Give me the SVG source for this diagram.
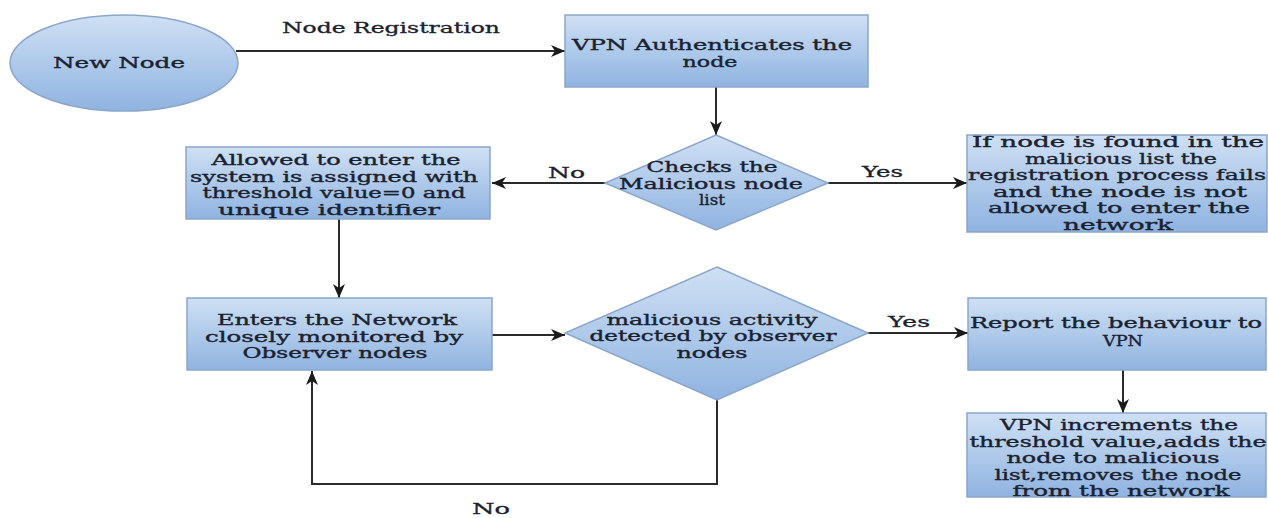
<svg xmlns="http://www.w3.org/2000/svg" width="1268" height="518" viewBox="0 0 1268 518">
<defs>
<linearGradient id="g" x1="0" y1="0" x2="0" y2="1">
<stop offset="0" stop-color="#cfe0f4"/>
<stop offset="1" stop-color="#8fb3e0"/>
</linearGradient>
<marker id="ah" markerUnits="userSpaceOnUse" markerWidth="16" markerHeight="14" refX="14" refY="7" orient="auto">
<path d="M0,1 L14,7 L0,13 L4,7 Z" fill="#1a1a1a"/>
</marker>
<style>
.n{fill:url(#g);stroke:#8ba6c9;stroke-width:1.5}
.t{font-family:"DejaVu Serif","Liberation Serif",serif;font-size:14px;fill:#1a2230;stroke:#1a2230;stroke-width:0.35;text-anchor:middle}
.c{fill:none;stroke:#2a2a2a;stroke-width:2;marker-end:url(#ah)}
.l{font-family:"DejaVu Serif","Liberation Serif",serif;font-size:14px;fill:#1a2230;stroke:#1a2230;stroke-width:0.3}
</style>
</defs>
<rect width="1268" height="518" fill="#ffffff"/>

<g id="connectors">
<line class="c" x1="236" y1="51" x2="565" y2="51"/>
<line class="c" x1="716" y1="87" x2="716" y2="135"/>
<line class="c" x1="605" y1="183" x2="492" y2="183"/>
<line class="c" x1="828" y1="183" x2="967" y2="183"/>
<line class="c" x1="339" y1="219" x2="339" y2="298"/>
<line class="c" x1="492" y1="335" x2="565" y2="335"/>
<line class="c" x1="868" y1="333" x2="968" y2="333"/>
<line class="c" x1="1123" y1="370" x2="1123" y2="413"/>
<polyline class="c" points="717,400 717,484 312,484 312,371"/>
<text class="l" x="282" y="33" textLength="218" lengthAdjust="spacingAndGlyphs">Node Registration</text>
<text class="l" x="548" y="178" textLength="37" lengthAdjust="spacingAndGlyphs">No</text>
<text class="l" x="862" y="177" textLength="41" lengthAdjust="spacingAndGlyphs">Yes</text>
<text class="l" x="888" y="327" textLength="42" lengthAdjust="spacingAndGlyphs">Yes</text>
<text class="l" x="472" y="514" textLength="38" lengthAdjust="spacingAndGlyphs">No</text>
</g>

<g id="new-node">
<ellipse class="n" cx="124" cy="63" rx="114" ry="48"/>
<text class="t" x="119" y="68" textLength="132" lengthAdjust="spacingAndGlyphs">New Node</text>
</g>

<g id="vpn-auth">
<rect class="n" x="565" y="15" width="303" height="72"/>
<text class="t" x="712" y="50" textLength="280" lengthAdjust="spacingAndGlyphs">VPN Authenticates the</text>
<text class="t" x="710" y="66.5" textLength="55" lengthAdjust="spacingAndGlyphs">node</text>
</g>

<g id="check-list">
<polygon class="n" points="716,135 828,183 716,230 605,183"/>
<text class="t" x="712" y="172" textLength="131" lengthAdjust="spacingAndGlyphs">Checks the</text>
<text class="t" x="711" y="188.5" textLength="184" lengthAdjust="spacingAndGlyphs">Malicious node</text>
<text class="t" x="712" y="205" textLength="26" lengthAdjust="spacingAndGlyphs">list</text>
</g>

<g id="allowed">
<rect class="n" x="186" y="147" width="304" height="72"/>
<text class="t" x="336" y="165" textLength="249" lengthAdjust="spacingAndGlyphs">Allowed to enter the</text>
<text class="t" x="334" y="181.7" textLength="288" lengthAdjust="spacingAndGlyphs">system is assigned with</text>
<text class="t" x="334" y="198.4" textLength="263" lengthAdjust="spacingAndGlyphs">threshold value=0 and</text>
<text class="t" x="329" y="215" textLength="222" lengthAdjust="spacingAndGlyphs">unique identifier</text>
</g>

<g id="rejected">
<rect class="n" x="967" y="135" width="300" height="97"/>
<text class="t" x="1118" y="147" textLength="292" lengthAdjust="spacingAndGlyphs">If node is found in the</text>
<text class="t" x="1121" y="163.5" textLength="192" lengthAdjust="spacingAndGlyphs">malicious list the</text>
<text class="t" x="1117" y="180" textLength="298" lengthAdjust="spacingAndGlyphs">registration process fails</text>
<text class="t" x="1120" y="196.5" textLength="254" lengthAdjust="spacingAndGlyphs">and the node is not</text>
<text class="t" x="1119" y="213" textLength="262" lengthAdjust="spacingAndGlyphs">allowed to enter the</text>
<text class="t" x="1118" y="229.5" textLength="110" lengthAdjust="spacingAndGlyphs">network</text>
</g>

<g id="enters">
<rect class="n" x="187" y="298" width="305" height="72"/>
<text class="t" x="337" y="325" textLength="240" lengthAdjust="spacingAndGlyphs">Enters the Network</text>
<text class="t" x="334" y="341.5" textLength="258" lengthAdjust="spacingAndGlyphs">closely monitored by</text>
<text class="t" x="335" y="358" textLength="185" lengthAdjust="spacingAndGlyphs">Observer nodes</text>
</g>

<g id="detect">
<polygon class="n" points="717,267 868,333 717,400 565,333"/>
<text class="t" x="712" y="324.5" textLength="211" lengthAdjust="spacingAndGlyphs">malicious activity</text>
<text class="t" x="713" y="341" textLength="247" lengthAdjust="spacingAndGlyphs">detected by observer</text>
<text class="t" x="712" y="357.5" textLength="71" lengthAdjust="spacingAndGlyphs">nodes</text>
</g>

<g id="report">
<rect class="n" x="968" y="298" width="298" height="72"/>
<text class="t" x="1116" y="328" textLength="292" lengthAdjust="spacingAndGlyphs">Report the behaviour to</text>
<text class="t" x="1123" y="346" textLength="40" lengthAdjust="spacingAndGlyphs">VPN</text>
</g>

<g id="increment">
<rect class="n" x="967" y="413" width="299" height="84"/>
<text class="t" x="1119" y="430" textLength="238" lengthAdjust="spacingAndGlyphs">VPN increments the</text>
<text class="t" x="1118" y="446.5" textLength="297" lengthAdjust="spacingAndGlyphs">threshold value,adds the</text>
<text class="t" x="1113" y="463" textLength="213" lengthAdjust="spacingAndGlyphs">node to malicious</text>
<text class="t" x="1118" y="479.5" textLength="247" lengthAdjust="spacingAndGlyphs">list,removes the node</text>
<text class="t" x="1121" y="496" textLength="217" lengthAdjust="spacingAndGlyphs">from the network</text>
</g>
</svg>
